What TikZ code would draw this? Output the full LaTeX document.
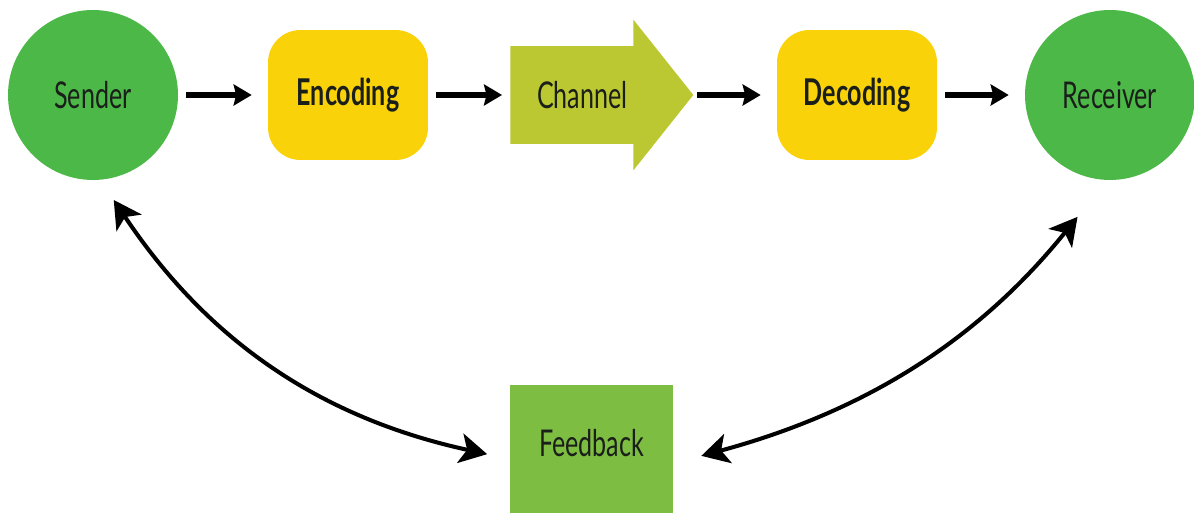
\documentclass[tikz,border=0pt]{standalone}
\usepackage{fontspec}
\setmainfont[FakeStretch=0.68]{Lato}
\definecolor{Leaf}{HTML}{4CB848}
\definecolor{Grass}{HTML}{7DBD42}
\definecolor{Sun}{HTML}{FAD20A}
\definecolor{Lime}{HTML}{BCC831}
\definecolor{Ink}{HTML}{1A1F1A}
\usetikzlibrary{arrows.meta,positioning,calc,shapes.arrows}
\tikzset{
  party/.style={circle,fill=Leaf,minimum size=3.4cm,inner sep=0pt,
    font=\fontsize{21}{24}\selectfont,text=Ink},
  codebox/.style={rectangle,fill=Sun,rounded corners=0.65cm,minimum width=3.2cm,
    minimum height=2.6cm,font=\fontsize{21}{24}\selectfont\bfseries,text=Ink},
  pipe/.style={single arrow,fill=Lime,minimum height=3.66cm,minimum width=3cm,
    single arrow head extend=0.53cm,single arrow tip angle=103,inner xsep=0pt,
    text height=0.53cm,text depth=0cm,inner ysep=0.705cm,
    font=\fontsize{21}{24}\selectfont,text=Ink},
  fbbox/.style={rectangle,fill=Grass,minimum width=3.26cm,minimum height=2.56cm,
    text depth=0.25cm,font=\fontsize{21}{24}\selectfont,text=Ink},
  flowarrow/.style={-{Stealth[length=0.36cm,width=0.42cm,inset=0.05cm]},line width=3pt,
    shorten <=0.16cm,shorten >=0.32cm},
  backarrow/.style={{Stealth[length=0.55cm,width=0.6cm,inset=0.14cm]}-{Stealth[length=0.55cm,width=0.6cm,inset=0.14cm]},
    line width=2.3pt}
}
\begin{document}
\begin{tikzpicture}[x=0.02cm,y=-0.02cm]
  \useasboundingbox (0,0) rectangle (1194,513);
  \node[party] (snd) at (93,95) {Sender};
  \node[codebox] (enc) at (348,95) {Encoding};
  \node[pipe,anchor=tail] (chan) at (510,95) {Channel};
  \node[codebox] (dec) at (857,95) {Decoding};
  \node[party] (rcv) at (1110,95) {Receiver};
  \node[fbbox] (fb) at (591.5,449) {Feedback};
  \draw[flowarrow] (snd) -- (enc);
  \draw[flowarrow,shorten >=0.16cm] (enc) -- (chan.tail);
  \draw[flowarrow,shorten <=0.06cm] (chan.tip) -- (dec);
  \draw[flowarrow] (dec) -- (rcv);
  % feedback loops
  \draw[backarrow,shorten <=0.48cm,shorten >=0.46cm] (snd.-85) to[bend right=22] (fb.187);
  \draw[backarrow,shorten <=0.94cm,shorten >=0.58cm] (rcv.-92) to[bend left=18] (fb.-10);
\end{tikzpicture}
\end{document}
